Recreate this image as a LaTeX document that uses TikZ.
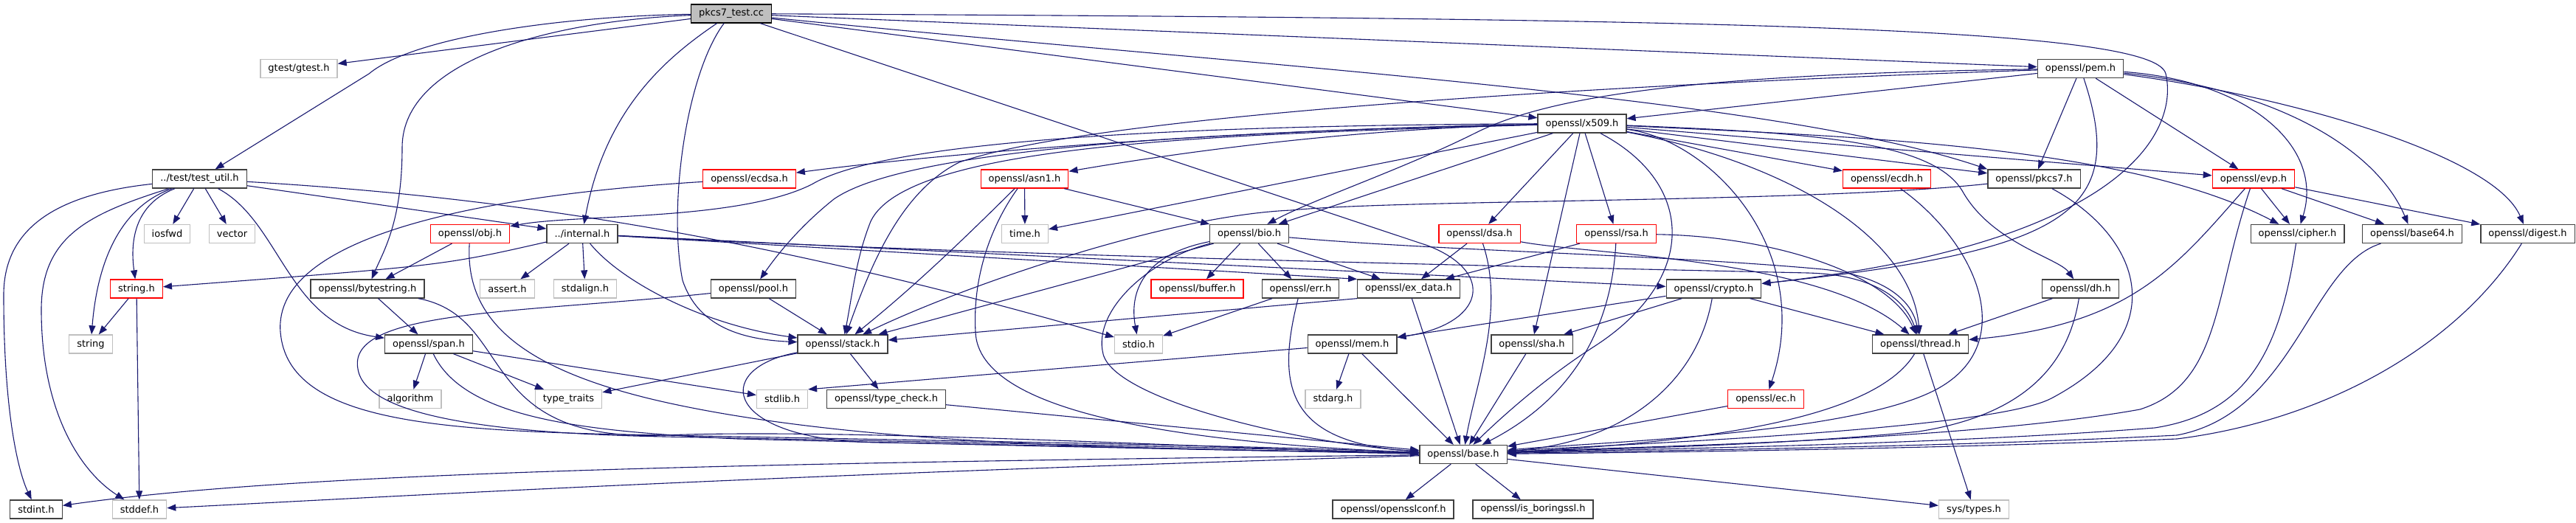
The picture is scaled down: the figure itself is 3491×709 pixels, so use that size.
\documentclass[tikz,border=0pt]{standalone}
\usepackage{fontspec}
\setmainfont{DejaVu Sans}
\usetikzlibrary{arrows.meta}

\definecolor{edgeblue}{HTML}{191970}
\definecolor{boxgrey}{HTML}{404040}
\definecolor{sysgrey}{HTML}{BFBFBF}

\begin{document}
\begin{tikzpicture}[x=1pt,y=-1pt]
\useasboundingbox (0,0) rectangle (3491,709);
\fill[white] (0,0) rectangle (3491,709);

\begin{scope}[every node/.style={rectangle,draw=boxgrey,line width=1.3pt,fill=white,
                inner xsep=10.5pt,inner ysep=0pt,minimum height=25pt,
                font=\fontsize{13}{15}\selectfont},
            sys/.style={draw=sysgrey},
            cut/.style={draw=red}]
    \node [draw=black,fill=sysgrey] (test) at (991,18.5) {pkcs7\_test.cc};

    \node [sys] (gtest) at (405,93)    {gtest/gtest.h};
    \node (pem)         at (2819.5,93) {openssl/pem.h};

    \node (x509) at (2144,167.5) {openssl/x509.h};

    \node (testutil)    at (270.5,242.5)  {../test/test\_util.h};
    \node [cut] (ecdsa) at (1015.5,242.5) {openssl/ecdsa.h};
    \node [cut] (asn1)  at (1388.5,242.5) {openssl/asn1.h};
    \node [cut] (ecdh)  at (2557,242.5)   {openssl/ecdh.h};
    \node (pkcs7)       at (2756.5,242.5) {openssl/pkcs7.h};
    \node [cut] (evp)   at (3054,242.5)   {openssl/evp.h};

    \node [sys] (iosfwd) at (226.5,317)  {iosfwd};
    \node [sys] (vector) at (314.5,317)  {vector};
    \node [cut] (obj)    at (637,317)    {openssl/obj.h};
    \node (internal)     at (789,317)    {../internal.h};
    \node [sys] (time)   at (1389,317)   {time.h};
    \node (bio)          at (1693,317)   {openssl/bio.h};
    \node [cut] (dsa)    at (2005,317)   {openssl/dsa.h};
    \node [cut] (rsa)    at (2190.5,317) {openssl/rsa.h};
    \node (cipher)       at (3113.5,317) {openssl/cipher.h};
    \node (base64)       at (3269,317)   {openssl/base64.h};
    \node (digest)       at (3425.5,317) {openssl/digest.h};

    \node [cut] (stringh)  at (185,391.5)    {string.h};
    \node (bytestring)     at (498,391.5)    {openssl/bytestring.h};
    \node [sys] (assert)   at (687.5,391.5)  {assert.h};
    \node [sys] (stdalign) at (793,391.5)    {stdalign.h};
    \node (pool)           at (1021,391.5)   {openssl/pool.h};
    \node [cut] (buffer)   at (1622.5,391.5) {openssl/buffer.h};
    \node (err)            at (1762.5,391.5) {openssl/err.h};
    \node (exdata)         at (1909,391.5)   {openssl/ex\_data.h};
    \node (crypto)         at (2322.5,391.5) {openssl/crypto.h};
    \node (dh)             at (2819.5,391.5) {openssl/dh.h};

    \node [sys] (string) at (123,466.5)    {string};
    \node (span)         at (581,466.5)    {openssl/span.h};
    \node (stack)        at (1142,466.5)   {openssl/stack.h};
    \node [sys] (stdio)  at (1543,466.5)   {stdio.h};
    \node (mem)          at (1832.5,466.5) {openssl/mem.h};
    \node (sha)          at (2076,466.5)   {openssl/sha.h};
    \node (thread)       at (2602.5,466.5) {openssl/thread.h};

    \node [sys] (algorithm)  at (556,541)    {algorithm};
    \node [sys] (typetraits) at (770.5,541)  {type\_traits};
    \node [sys] (stdlib)     at (1060,541)   {stdlib.h};
    \node (typecheck)        at (1201,541)   {openssl/type\_check.h};
    \node [sys] (stdarg)     at (1806.5,541) {stdarg.h};
    \node [cut] (ec)         at (2393,541)   {openssl/ec.h};

    \node (base) at (1983,616) {openssl/base.h};

    \node (stdint)         at (49,690.5)     {stdint.h};
    \node [sys] (stddef)   at (189,690.5)    {stddef.h};
    \node (opensslconf)    at (1888,690.5)   {openssl/opensslconf.h};
    \node (isboringssl)    at (2077.5,690.5) {openssl/is\_boringssl.h};
    \node [sys] (systypes) at (2675,690.5)   {sys/types.h};
\end{scope}

\begin{scope}[>={Triangle[length=12pt,width=9pt]},
            color=edgeblue, line width=1.1pt,
            every edge/.style={draw=edgeblue,line width=1.1pt}]
    \path [->] (test) edge (gtest);
    \draw [->] (test) .. controls (760,22) and (560,50) .. (500,100) -- (testutil);
    \draw [->] (test) .. controls (750,28) and (545,80) .. (545,200) .. controls (545,300) and (520,340) .. (bytestring);
    \draw [->] (test) .. controls (900,80) and (820,150) .. (internal);
    \draw [->] (test) .. controls (930,100) and (905,280) .. (925,380) .. controls (945,440) and (1000,460) .. (stack);
    \draw [->] (test) -- (1935,333) .. controls (2030,370) and (2010,440) .. (mem);
    \path [->] (test) edge (x509);
    \draw [->] (test) .. controls (1700,90) and (2400,130) .. (pkcs7.north west);
    \path [->] (test) edge (pem);
    \draw [->] (test) .. controls (2300,25) and (2920,35) .. (2935,100) .. controls (2953,178) and (2880,330) .. (crypto);

    \path [->] (pem) edge (x509);
    \path [->] (pem) edge (pkcs7);
    \path [->] (pem) edge (evp);
    \draw [->] (pem) .. controls (2885,290) and (2800,340) .. (crypto);
    \draw [->] (pem) .. controls (3050,110) and (3150,200) .. (cipher);
    \draw [->] (pem) .. controls (3080,120) and (3220,200) .. (base64);
    \draw [->] (pem) .. controls (3100,130) and (3380,210) .. (digest);
    \draw [->] (pem) .. controls (2300,100) and (2100,130) .. (2000,180) .. controls (1900,230) and (1780,270) .. (bio);
    \draw [->] (pem) .. controls (2300,110) and (1500,150) .. (1300,220) .. controls (1220,260) and (1180,360) .. (stack);

    \draw [->] (x509) .. controls (1700,175) and (1300,205) .. (ecdsa);
    \draw [->] (x509) .. controls (1800,175) and (1550,215) .. (asn1);
    \draw [->] (x509) .. controls (1600,170) and (1200,190) .. (1100,250) .. controls (1000,300) and (780,290) .. (obj);
    \draw [->] (x509) .. controls (1650,178) and (1230,200) .. (1130,270) .. controls (1080,310) and (1050,350) .. (pool);
    \draw [->] (x509) .. controls (1650,182) and (1230,195) .. (1180,300) .. controls (1160,350) and (1155,400) .. (stack);
    \path [->] (x509) edge (bio);
    \path [->] (x509) edge (time);
    \path [->] (x509) edge (dsa);
    \path [->] (x509) edge (rsa);
    \path [->] (x509) edge (sha);
    \draw [->] (x509) .. controls (2300,250) and (2300,380) .. (2160,470) .. controls (2090,515) and (2030,570) .. (base);
    \draw [->] (x509) .. controls (2320,190) and (2460,340) .. (ec);
    \path [->] (x509) edge (ecdh);
    \path [->] (x509) edge (pkcs7);
    \path [->] (x509) edge (evp);
    \draw [->] (x509) .. controls (2500,185) and (2880,195) .. (cipher);
    \draw [->] (x509) .. controls (2450,180) and (2620,190) .. (2660,260) .. controls (2700,330) and (2790,350) .. (dh);
    \draw [->] (x509) .. controls (2420,220) and (2590,320) .. (thread);

    \draw [->] (testutil) .. controls (60,265) and (5,320) .. (5,400) .. controls (5,560) and (25,640) .. (stdint);
    \draw [->] (testutil) .. controls (120,290) and (56,320) .. (56,420) .. controls (56,560) and (110,640) .. (stddef);
    \draw [->] (testutil) .. controls (150,285) and (130,380) .. (string);
    \draw [->] (testutil) .. controls (175,280) and (178,340) .. (stringh);
    \path [->] (testutil) edge (iosfwd);
    \path [->] (testutil) edge (vector);
    \draw [->] (testutil) .. controls (380,300) and (390,440) .. (span);
    \path [->] (testutil) edge (internal);
    \draw [->] (testutil) .. controls (650,265) and (1000,310) .. (stdio);

    \path [->] (stringh) edge (string);
    \path [->] (stringh) edge (stddef);

    \draw [->] (ecdsa) .. controls (650,265) and (370,320) .. (380,450) .. controls (390,575) and (600,585) .. (900,590) .. controls (1300,598) and (1700,604) .. (base);

    \path [->] (obj) edge (bytestring);
    \draw [->] (obj) .. controls (630,430) and (700,500) .. (900,545) .. controls (1200,612) and (1650,608) .. (base);

    \draw [->] (internal) .. controls (600,360) .. (stringh);
    \path [->] (internal) edge (assert);
    \path [->] (internal) edge (stdalign);
    \draw [->] (internal) .. controls (840,380) and (950,440) .. (stack);
    \path [->] (internal) edge (exdata.north west);
    \path [->] (internal) edge (crypto);
    \draw [->] (internal) .. controls (1300,345) and (2000,360) .. (2450,370) .. controls (2530,372) and (2580,400) .. (thread);

    \path [->] (bytestring) edge (span);
    \draw [->] (bytestring) .. controls (700,430) and (640,600) .. (900,590) .. controls (1160,580) and (1700,610) .. (base);

    \path [->] (span) edge (algorithm);
    \path [->] (span) edge (typetraits);
    \path [->] (span) edge (stdlib);
    \draw [->] (span) .. controls (630,570) and (800,585) .. (1000,595) .. controls (1400,605) and (1700,611) .. (base);

    \path [->] (pool) edge (stack);
    \draw [->] (pool) .. controls (700,425) and (470,420) .. (485,500) .. controls (495,570) and (700,588) .. (900,592) .. controls (1300,600) and (1650,606) .. (base);

    \path [->] (stack) edge (typecheck);
    \path [->] (stack) edge (typetraits);
    \draw [->] (stack) .. controls (960,500) and (980,600) .. (1200,600) .. controls (1500,605) and (1750,612) .. (base);

    \path [->] (typecheck) edge (base);

    \path [->] (asn1) edge (time);
    \path [->] (asn1) edge (bio);
    \draw [->] (asn1) .. controls (1330,300) and (1250,380) .. (stack);
    \draw [->] (asn1) .. controls (1340,310) and (1318,380) .. (1322,450) .. controls (1326,560) and (1600,600) .. (base);

    \path [->] (bio) edge (buffer);
    \path [->] (bio) edge (err);
    \path [->] (bio) edge (exdata);
    \path [->] (bio) edge (stack);
    \draw [->] (bio) .. controls (1550,345) and (1530,395) .. (stdio);
    \draw [->] (bio) .. controls (1950,340) and (2250,345) .. (2470,365) .. controls (2540,372) and (2590,400) .. (thread);
    \draw [->] (bio) .. controls (1560,350) and (1480,420) .. (1495,480) .. controls (1510,540) and (1750,600) .. (base);

    \path [->] (err) edge (stdio);
    \draw [->] (err) .. controls (1730,520) and (1740,600) .. (base);

    \path [->] (exdata.south west) edge (stack);
    \path [->] (exdata) edge (base);

    \path [->] (dsa) edge (exdata);
    \draw [->] (dsa) .. controls (2040,420) and (2000,520) .. (base);
    \draw [->] (dsa) .. controls (2150,345) and (2470,350) .. (thread);
    \path [->] (rsa) edge (exdata);
    \draw [->] (rsa) .. controls (2185,420) and (2150,530) .. (base);
    \draw [->] (rsa) .. controls (2400,320) and (2560,370) .. (thread);

    \path [->] (crypto) edge (mem);
    \path [->] (crypto) edge (sha);
    \path [->] (crypto) edge (thread);
    \draw [->] (crypto) .. controls (2300,520) and (2200,600) .. (base);

    \path [->] (mem) edge (stdarg);
    \path [->] (mem) edge (base);
    \path [->] (mem) edge (stdlib.north east);
    \path [->] (sha) edge (base);
    \path [->] (ec) edge (base);

    \path [->] (thread) edge (systypes);
    \draw [->] (thread) .. controls (2540,570) and (2300,600) .. (base);

    \path [->] (dh) edge (thread);
    \draw [->] (dh) .. controls (2805,480) and (2760,560) .. (2600,585) .. controls (2400,605) and (2150,609) .. (base);
    \draw [->] (ecdh) .. controls (2680,330) and (2740,470) .. (2620,530) .. controls (2500,590) and (2150,600) .. (base);
    \draw [->] (pkcs7) .. controls (2450,275) and (1900,270) .. (1750,285) .. controls (1580,292) and (1300,390) .. (stack);
    \draw [->] (pkcs7) .. controls (2900,320) and (2950,450) .. (2780,540) .. controls (2695,585) and (2150,604) .. (base);

    \path [->] (evp) edge (cipher);
    \path [->] (evp) edge (base64);
    \path [->] (evp) edge (digest);
    \draw [->] (evp) .. controls (2950,360) and (2890,440) .. (thread);
    \draw [->] (evp) .. controls (3000,400) and (3010,520) .. (2900,555) .. controls (2650,600) and (2150,607) .. (base);
    \draw [->] (cipher) .. controls (3090,470) and (3050,560) .. (2920,580) .. controls (2600,605) and (2150,610) .. (base);
    \draw [->] (base64) .. controls (3130,360) and (3110,560) .. (2950,590) .. controls (2600,608) and (2150,612) .. (base);
    \draw [->] (digest) .. controls (3330,470) and (3150,570) .. (2950,595) .. controls (2600,610) and (2150,614) .. (base);

    \draw [->] (base) .. controls (1000,628) and (400,640) .. (stdint);
    \draw [->] (base) .. controls (1000,645) and (500,675) .. (stddef);
    \path [->] (base) edge (opensslconf);
    \path [->] (base) edge (isboringssl);
    \path [->] (base) edge (systypes);
\end{scope}
\end{tikzpicture}
\end{document}
